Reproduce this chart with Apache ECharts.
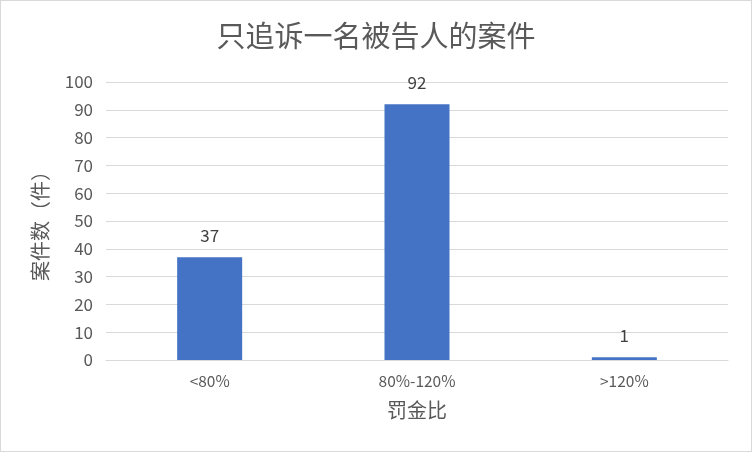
<!DOCTYPE html>
<html><head><meta charset="utf-8">
<script src="https://cdn.jsdelivr.net/npm/echarts@6/dist/echarts.min.js"></script>
<style>html,body{margin:0;padding:0;background:#fff}#c{width:752px;height:452px;box-sizing:border-box;border:1px solid #d9d9d9}</style>
</head><body><div id="c"></div>
<script>
const title = '只追诉一名被告人的案件';
const categories = ['<80%', '80%-120%', '>120%'];
const values = [37, 92, 1];
const yName = '案件数（件）';
const xName = '罚金比';
const font = '"Noto Sans CJK SC", "Microsoft YaHei", sans-serif';
const chart = echarts.init(document.getElementById('c'));
chart.setOption({
  animation: false,
  title: {text: title, left: 'center', top: 15, textStyle: {fontFamily: font, fontSize: 29, fontWeight: 'normal', color: '#595959'}},
  grid: {left: 105, right: 23, top: 81, bottom: 91},
  xAxis: {
    type: 'category', data: categories,
    name: xName, nameLocation: 'middle', nameGap: 40,
    nameTextStyle: {fontFamily: font, fontSize: 20, color: '#595959'},
    axisLine: {lineStyle: {color: '#d9d9d9'}}, axisTick: {show: false},
    axisLabel: {fontFamily: font, fontSize: 15.5, color: '#595959', margin: 13}
  },
  yAxis: {
    type: 'value', min: 0, max: 100, interval: 10,
    name: yName, nameLocation: 'middle', nameGap: 56,
    nameTextStyle: {fontFamily: font, fontSize: 20, color: '#595959'},
    axisLine: {show: false}, axisTick: {show: false},
    splitLine: {lineStyle: {color: '#d9d9d9'}},
    axisLabel: {fontFamily: font, fontSize: 17, color: '#595959', margin: 13}
  },
  series: [{
    type: 'bar', data: values, barWidth: 65,
    itemStyle: {color: '#4472C4'},
    label: {show: true, position: 'top', distance: 13, fontFamily: font, fontSize: 17, color: '#404040'}
  }]
});
</script></body></html>
